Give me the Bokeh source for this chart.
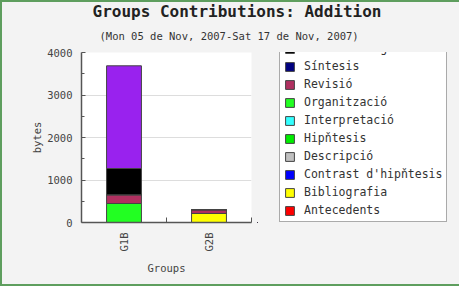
from bokeh.plotting import figure
from bokeh.layouts import column, row
from bokeh.models import (Range1d, FixedTicker, Legend, LegendItem, Title,
                          ColumnDataSource)
from bokeh.embed import file_html
from bokeh.resources import INLINE

groups = ["G1B", "G2B"]
series = ["Antecedents", "Bibliografia", "Contrast d'hipňtesis", "Descripció",
          "Hipňtesis", "Interpretació", "Organització", "Revisió", "Síntesis",
          "Tractament grŕfic", "Tractament matemŕtic"]
colors = ["#ff0000", "#ffff00", "#0000ff", "#c0c0c0", "#00ee00", "#33ffff",
          "#22ff22", "#b03060", "#000080", "#000000", "#9922ee"]
antecedents = [0, 0]
bibliografia = [0, 212]
contrast = [0, 0]
descripcio = [0, 0]
hipotesis = [0, 0]
interpretacio = [0, 0]
organitzacio = [447, 0]
revisio = [205, 90]
sintesis = [0, 0]
tract_grafic = [618, 0]
tract_matematic = [2417, 0]
values = [antecedents, bibliografia, contrast, descripcio, hipotesis,
          interpretacio, organitzacio, revisio, sintesis, tract_grafic,
          tract_matematic]
yticks = [0, 1000, 2000, 3000, 4000]

FONT = "DejaVu Sans Mono"
BG = "#f3f3f3"

xs = [i + 0.5 for i in range(len(groups))]
data = {"x": xs}
for name, vals in zip(series, values):
    data[name] = vals
source = ColumnDataSource(data)

# ---- title strip ----
t = figure(width=457, height=42, output_backend="svg", toolbar_location=None,
           min_border_left=0, min_border_right=0, min_border_top=0,
           min_border_bottom=0, x_range=Range1d(0, 1), y_range=Range1d(0, 1),
           x_axis_location=None, y_axis_location=None)
t.grid.visible = False
t.outline_line_color = None
t.background_fill_color = BG
t.border_fill_color = BG
t.title.text = "Groups Contributions: Addition"
t.title.align = "left"
t.title.offset = 90
t.title.standoff = 9
t.title.text_font = FONT
t.title.text_font_size = "16px"
t.title.text_font_style = "bold"
t.title.text_color = "#222222"
sub = Title(text="(Mon 05 de Nov, 2007-Sat 17 de Nov, 2007)", align="left",
            offset=97, standoff=5, text_font=FONT, text_font_size="10.5px",
            text_font_style="normal", text_color="#333333")
t.add_layout(sub, "above")

# ---- chart ----
p = figure(width=255, height=240, output_backend="svg", toolbar_location=None,
           x_range=Range1d(0, len(groups)), y_range=Range1d(0, 4000),
           min_border_left=79, min_border_right=6, min_border_bottom=62,
           min_border_top=8)
p.background_fill_color = "white"
p.border_fill_color = BG
p.outline_line_color = None

p.vbar_stack(series, x="x", width=0.41, source=source,
             fill_color=colors, line_color="#444444", line_width=1)

p.xaxis.ticker = FixedTicker(ticks=xs, minor_ticks=[1.0, 2.0])
p.xaxis.major_label_overrides = {x: g for x, g in zip(xs, groups)}
p.xaxis.major_label_orientation = 3.14159265 / 2
p.xaxis.axis_label = "Groups"
p.yaxis.axis_label = "bytes"
p.yaxis.ticker = FixedTicker(ticks=yticks, minor_ticks=[500, 1500, 2500, 3500])
p.yaxis.major_tick_in = 4
p.yaxis.major_tick_out = 0
p.yaxis.minor_tick_in = 3
p.yaxis.minor_tick_out = 0
p.xaxis.minor_tick_in = 5
p.xaxis.minor_tick_out = 0
for ax in (p.xaxis, p.yaxis):
    ax.axis_line_color = "#555555"
    ax.axis_line_width = 1.5
    ax.minor_tick_line_color = "#555555"
    ax.major_label_text_font = FONT
    ax.major_label_text_font_size = "10.5px"
    ax.major_label_text_color = "#444444"
    ax.axis_label_text_font = FONT
    ax.axis_label_text_font_size = "10.5px"
    ax.axis_label_text_font_style = "normal"
    ax.axis_label_text_color = "#444444"
p.yaxis.major_tick_line_color = "#555555"
p.xaxis.major_tick_line_color = None
p.yaxis.major_label_standoff = 9
p.yaxis.axis_label_standoff = 1
p.xaxis.major_label_standoff = 4
p.xaxis.axis_label_standoff = 8
p.xgrid.grid_line_color = None
p.ygrid.ticker = FixedTicker(ticks=yticks)
p.ygrid.grid_line_color = "#dddddd"

# ---- legend panel ----
lg = figure(width=202, height=240, output_backend="svg", toolbar_location=None,
            min_border_left=0, min_border_right=0, min_border_top=8,
            min_border_bottom=62, x_range=Range1d(10, 11),
            y_range=Range1d(50000, 60000), x_axis_location=None,
            y_axis_location=None)
lg.grid.visible = False
lg.outline_line_color = None
lg.background_fill_color = BG
lg.border_fill_color = BG
lrs = lg.vbar_stack(series, x="x", width=0.41, source=source,
                    fill_color=colors, line_color="#444444", line_width=1)
items = [LegendItem(label=name, renderers=[r])
         for name, r in zip(series, lrs)][::-1]
legend = Legend(items=items, location=(22, 0), orientation="vertical",
                label_text_font=FONT, label_text_font_size="11.5px",
                label_text_color="#333333", glyph_width=11, glyph_height=11,
                label_height=11, spacing=4, padding=4, margin=0,
                label_standoff=9, border_line_color="#555555",
                border_line_width=1, background_fill_color="white",
                background_fill_alpha=1.0)
lg.add_layout(legend, "center")

layout = column(t, row(p, lg),
                styles={"border-left": "2px solid #5e9e5e",
                        "border-top": "2px solid #5e9e5e",
                        "border-bottom": "2px solid #5e9e5e",
                        "background-color": BG})

open("out.html", "w").write(file_html(layout, INLINE))
